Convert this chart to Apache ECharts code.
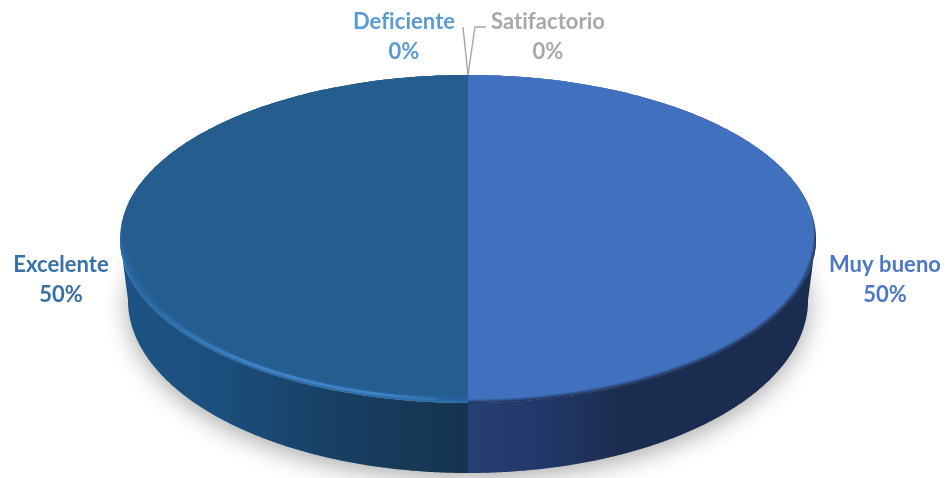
<!DOCTYPE html>
<html><head><meta charset="utf-8">
<style>html,body{margin:0;padding:0;background:#fff}#c{width:950px;height:478px}</style>
<script src="https://cdn.jsdelivr.net/npm/echarts@6/dist/echarts.min.js"></script>
</head><body><div id="c"></div>
<script>
// Data, clockwise from twelve o'clock
const categories = ['Muy bueno', 'Excelente', 'Deficiente', 'Satifactorio'];
const seriesValues = [50, 50, 0, 0];

// Styling
const labelColors = ['#4C78C6', '#3570A6', '#5B9BD5', '#A8A8A8'];
const faceColors = ['#4170BF', '#255D8F'];
const leaderColor = '#A6A6A6';
const FONT = '700 22px Lato, "Open Sans", sans-serif';

// Layout of the tilted disc
const CX = 468, TOP = {cy: 239, rx: 348, ry: 164}, BOTTOM = {cy: 300, rx: 340, ry: 173};
const bevelInset = [{rx: 4, ry: 3.5}, {rx: 10, ry: 8}];
const labelOffsets = [[69, 40.5], [-59, 40.5], [-64, -38], [80, -38]];
const leaderPaths = [null, null, [[-5, -48]], [[7, -48], [18, -48]]];

const total = seriesValues.reduce((a, b) => a + b, 0);
const pt = (th, e) => [CX + e.rx * Math.sin(th), e.cy - e.ry * Math.cos(th)];
const arc = (a, b, e) => {
  const n = 180, out = [];
  for (let k = 0; k <= n; k++) out.push(pt(a + (b - a) * k / n, e));
  return out;
};
// top edge with an inset that only opens up towards the viewer
const insetArc = (a, b, ins, f) => {
  const n = 180, out = [];
  for (let k = 0; k <= n; k++) {
    const th = a + (b - a) * k / n, c = Math.cos(th);
    let t = Math.min(1, Math.max(0, (0.25 - c) / 0.45));
    t = t * t * (3 - 2 * t) * f;
    const p = pt(th, TOP);
    out.push([p[0] - Math.sin(th) * ins.rx * t, p[1] + Math.min(c, 0) * ins.ry * t]);
  }
  return out;
};
const grad = (x, y, x2, y2, stops) => ({type: 'linear', x, y, x2, y2, global: true,
  colorStops: stops.map(s => ({offset: s[0], color: s[1]}))});
const wallFill = [
  grad(468, 0, 830, 0, [[0, '#273F72'], [0.2, '#22386A'], [0.42, '#1A2D50'], [1, '#1A2C4F']]),
  grad(120, 0, 468, 0, [[0, '#1D5485'], [0.3, '#1B4E7C'], [0.62, '#183F64'], [1, '#15344E']])
];
const rimFill = [
  grad(0, 196, 0, 225, [[0, '#4170BF'], [1, '#1B2E52']]),
  grad(0, 205, 0, 262, [[0, '#255D8F'], [1, '#2C6EAC']])
];
const highlightStroke = grad(140, 0, 468, 0, [
  [0, 'rgba(64,130,196,0)'], [0.3, 'rgba(64,130,196,1)'], [0.72, 'rgba(64,130,196,1)'], [1, 'rgba(64,130,196,0)']]);

function renderSlice(params, api) {
  const i = params.dataIndex;
  const before = seriesValues.slice(0, i).reduce((a, b) => a + b, 0);
  const a0 = before / total * 2 * Math.PI;
  const a1 = (before + api.value(0)) / total * 2 * Math.PI;
  const mid = (a0 + a1) / 2;
  const children = [];
  if (a1 > a0) {
    const wedge = e => [[CX, e.cy]].concat(arc(a0, a1, e));
    // soft contact shadow
    children.push({type: 'polygon', z2: 0, shape: {points: wedge(BOTTOM)},
      style: {fill: '#999', shadowBlur: 24, shadowColor: 'rgba(0,0,0,0.33)', shadowOffsetX: 0, shadowOffsetY: 6}});
    // side wall, front part only
    const fa = Math.max(a0, Math.PI / 2), fb = Math.min(a1, Math.PI * 1.5);
    children.push({type: 'polygon', z2: 1,
      shape: {points: arc(fa, fb, TOP).concat(arc(fb, fa, BOTTOM))}, style: {fill: wallFill[i]}});
    // bevel below the face
    children.push({type: 'polygon', z2: 2, shape: {points: wedge(TOP)}, style: {fill: rimFill[i]}});
    // stack of translucent layers grades the edge of the face into the bevel
    const layers = 6;
    for (let k = 1; k <= layers; k++) {
      children.push({type: 'polygon', z2: 4 + k,
        shape: {points: [[CX, TOP.cy]].concat(insetArc(a0, a1, bevelInset[i], k / layers))},
        style: {fill: faceColors[i], opacity: k === layers ? 1 : 0.24}});
    }
    if (i === 1) {
      children.push({type: 'polyline', z2: 7.5,
        shape: {points: insetArc(Math.PI * 1.03, Math.PI * 1.5, {rx: 3, ry: 3.5}, 1)},
        style: {stroke: highlightStroke, lineWidth: 3, fill: null}});
    }
  }
  // leader lines for slices too small to carry a label
  const anchor = pt(mid, TOP);
  if (leaderPaths[i]) {
    const pts = [anchor].concat(leaderPaths[i].map(o => [anchor[0] + o[0], anchor[1] + o[1]]));
    children.push({type: 'polyline', z2: 20, shape: {points: pts},
      style: {stroke: leaderColor, lineWidth: 1.4, fill: null}});
  }
  const pct = Math.round(api.value(0) / total * 100);
  children.push({type: 'text', z2: 21, style: {
    text: categories[i] + '\n' + pct + '%',
    x: anchor[0] + labelOffsets[i][0], y: anchor[1] + labelOffsets[i][1],
    align: 'center', verticalAlign: 'middle', lineHeight: 30,
    font: FONT, fill: labelColors[i]}});
  return {type: 'group', children};
}

// plain glyph spacing: no "fi" ligature, as in the reference
const baseFillText = CanvasRenderingContext2D.prototype.fillText;
CanvasRenderingContext2D.prototype.fillText = function (...args) {
  this.letterSpacing = '0.05px';
  return baseFillText.apply(this, args);
};

const chart = echarts.init(document.getElementById('c'));
chart.setOption({
  animation: false,
  backgroundColor: '#fff',
  series: [{type: 'custom', coordinateSystem: 'none', renderItem: renderSlice,
    data: seriesValues.map((v, i) => ({name: categories[i], value: [v]}))}]
});
</script></body></html>
